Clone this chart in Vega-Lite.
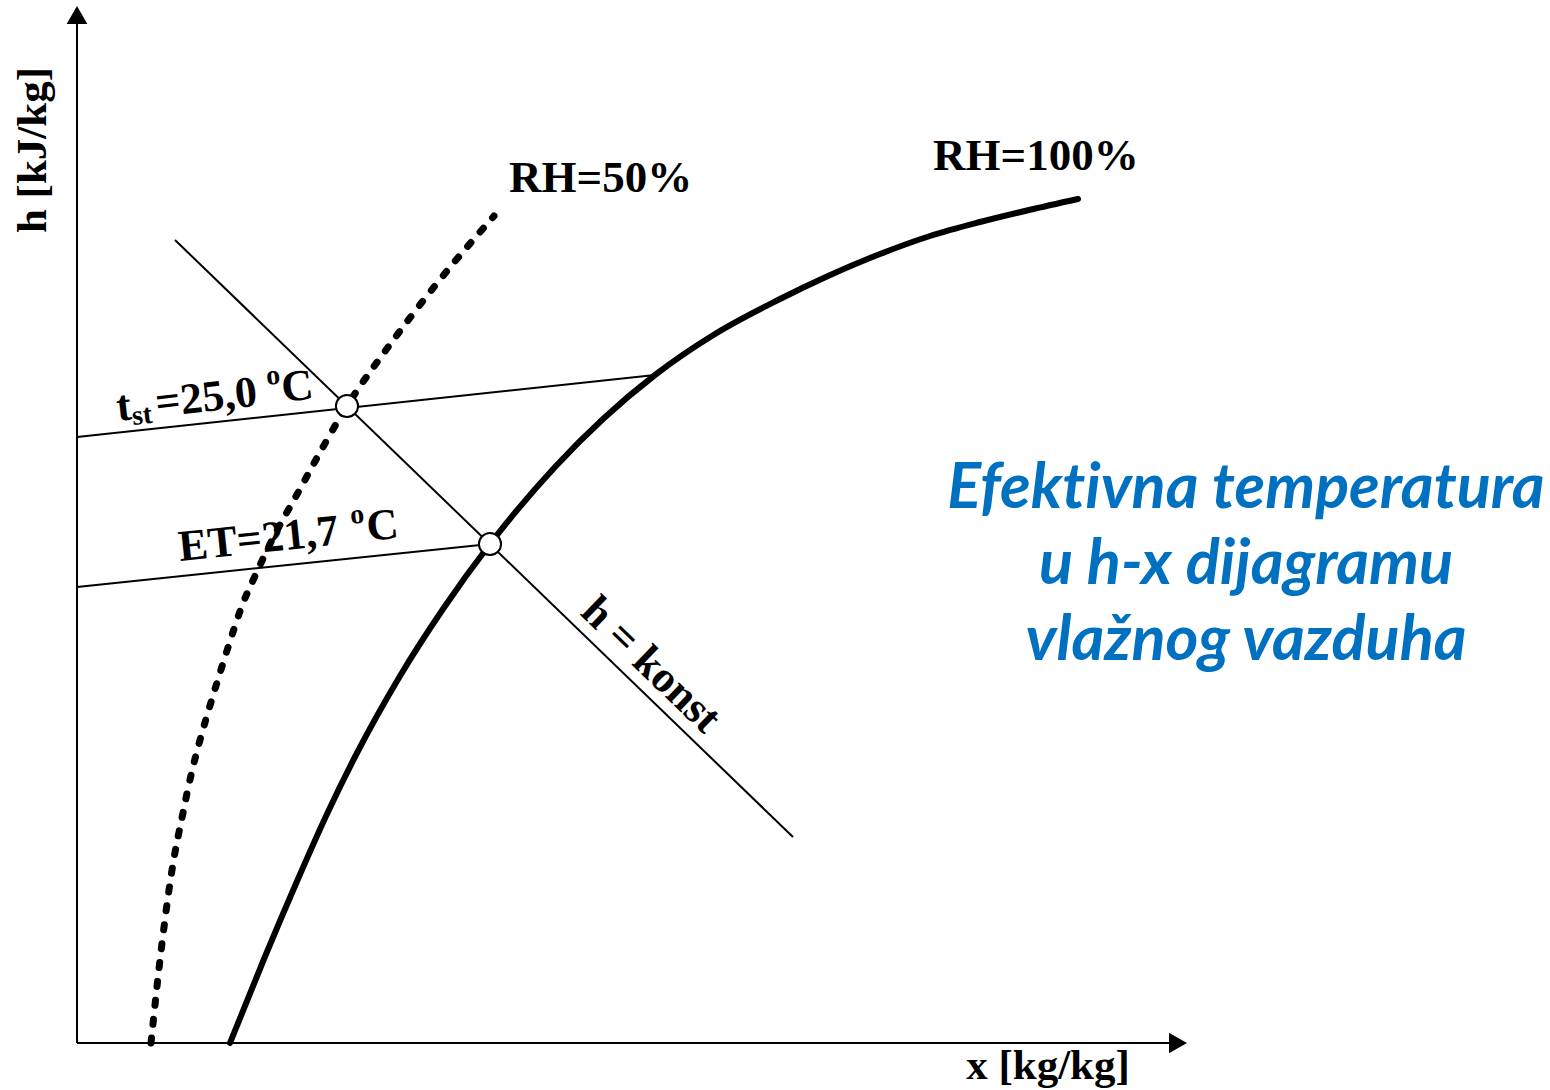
{
  "$schema": "https://vega.github.io/schema/vega-lite/v6.json",
  "width": 1550,
  "height": 1090,
  "autosize": {"type": "none"},
  "padding": 0,
  "background": "white",
  "config": {"view": {"stroke": null}},
  "encoding": {
    "x": {"field": "X", "type": "quantitative", "scale": {"domain": [-77, 1473], "nice": false, "zero": false}, "axis": null},
    "y": {"field": "Y", "type": "quantitative", "scale": {"domain": [-47, 1043], "nice": false, "zero": false}, "axis": null}
  },
  "datasets": {
    "axes": [
      {"X": 0, "Y": 0, "X2": 0, "Y2": 1020},
      {"X": 0, "Y": 0, "X2": 1095, "Y2": 0}
    ],
    "arrowUp": [{"X": 0, "Y": 1028}],
    "arrowRight": [{"X": 1101, "Y": 0}],
    "guides": [
      {"name": "tst", "X": 0, "Y": 606, "X2": 578, "Y2": 668},
      {"name": "ET", "X": 0, "Y": 456, "X2": 413, "Y2": 499},
      {"name": "hkonst", "X": 98, "Y": 803, "X2": 716, "Y2": 206}
    ],
    "rh100": [
      {"X": 153, "Y": 0}, {"X": 187, "Y": 84}, {"X": 221, "Y": 164}, {"X": 250, "Y": 229},
      {"X": 280, "Y": 290}, {"X": 323, "Y": 367}, {"X": 366, "Y": 434}, {"X": 413, "Y": 499},
      {"X": 478, "Y": 576}, {"X": 526, "Y": 624}, {"X": 578, "Y": 668}, {"X": 638, "Y": 709},
      {"X": 701, "Y": 743}, {"X": 751, "Y": 767}, {"X": 803, "Y": 789}, {"X": 853, "Y": 807},
      {"X": 903, "Y": 821}, {"X": 952, "Y": 833}, {"X": 1001, "Y": 844}
    ],
    "rh50": [
      {"X": 74, "Y": 0}, {"X": 83, "Y": 83}, {"X": 95, "Y": 173}, {"X": 106, "Y": 230},
      {"X": 123, "Y": 303}, {"X": 157, "Y": 414}, {"X": 173, "Y": 456}, {"X": 195, "Y": 503},
      {"X": 218, "Y": 545}, {"X": 241, "Y": 587}, {"X": 270, "Y": 637}, {"X": 298, "Y": 678},
      {"X": 323, "Y": 712}, {"X": 353, "Y": 751}, {"X": 385, "Y": 790}, {"X": 417, "Y": 827}
    ],
    "points": [{"X": 270, "Y": 637}, {"X": 413, "Y": 499}],
    "labelX": [{"text": "x [kg/kg]", "X": 971, "Y": -36}],
    "labelsRH": [
      {"text": "RH=50%", "X": 432, "Y": 851},
      {"text": "RH=100%", "X": 856, "Y": 873}
    ],
    "labelY": [{"text": "h [kJ/kg]", "X": -31, "Y": 893}],
    "tstBig": [
      {"text": "t", "X": 41, "Y": 622},
      {"text": "=25,0", "X": 80, "Y": 626},
      {"text": "C", "X": 206, "Y": 641}
    ],
    "tstSmall": [
      {"text": "st", "X": 56, "Y": 618},
      {"text": "o", "X": 190, "Y": 658}
    ],
    "etBig": [
      {"text": "ET=21,7", "X": 103, "Y": 482},
      {"text": "C", "X": 291, "Y": 502}
    ],
    "etSmall": [{"text": "o", "X": 274, "Y": 519}],
    "hk": [{"text": "h = konst", "X": 502, "Y": 429}],
    "title": [
      {"text": "Efekt\u200civna temperatura", "X": 1169, "Y": 535},
      {"text": "u h-x dijagramu", "X": 1169, "Y": 459},
      {"text": "vlažnog vazduha", "X": 1169, "Y": 383}
    ]
  },
  "layer": [
    {
      "data": {"name": "axes"},
      "mark": {"type": "rule", "stroke": "black", "strokeWidth": 2},
      "encoding": {"x2": {"field": "X2"}, "y2": {"field": "Y2"}}
    },
    {
      "data": {"name": "arrowUp"},
      "mark": {"type": "point", "shape": "triangle-up", "filled": true, "color": "black", "size": 430, "opacity": 1}
    },
    {
      "data": {"name": "arrowRight"},
      "mark": {"type": "point", "shape": "triangle-right", "filled": true, "color": "black", "size": 430, "opacity": 1}
    },
    {
      "data": {"name": "guides"},
      "mark": {"type": "rule", "stroke": "black", "strokeWidth": 2},
      "encoding": {"x2": {"field": "X2"}, "y2": {"field": "Y2"}}
    },
    {
      "data": {"name": "labelX"},
      "mark": {"type": "text", "font": "Liberation Serif", "fontWeight": "bold", "fontSize": 43, "baseline": "alphabetic", "align": "center", "color": "black"},
      "encoding": {"text": {"field": "text"}}
    },
    {
      "data": {"name": "labelsRH"},
      "mark": {"type": "text", "font": "Liberation Serif", "fontWeight": "bold", "fontSize": 45, "baseline": "alphabetic", "align": "left", "color": "black"},
      "encoding": {"text": {"field": "text"}}
    },
    {
      "data": {"name": "labelY"},
      "mark": {"type": "text", "font": "Liberation Serif", "fontWeight": "bold", "fontSize": 43, "baseline": "alphabetic", "align": "center", "angle": 270, "color": "black"},
      "encoding": {"text": {"field": "text"}}
    },
    {
      "data": {"name": "tstBig"},
      "mark": {"type": "text", "font": "Liberation Serif", "fontWeight": "bold", "fontSize": 44, "baseline": "alphabetic", "align": "left", "angle": -6.5, "color": "black"},
      "encoding": {"text": {"field": "text"}}
    },
    {
      "data": {"name": "tstSmall"},
      "mark": {"type": "text", "font": "Liberation Serif", "fontWeight": "bold", "fontSize": 28, "baseline": "alphabetic", "align": "left", "angle": -6.5, "color": "black"},
      "encoding": {"text": {"field": "text"}}
    },
    {
      "data": {"name": "etBig"},
      "mark": {"type": "text", "font": "Liberation Serif", "fontWeight": "bold", "fontSize": 44, "baseline": "alphabetic", "align": "left", "angle": -6, "color": "black"},
      "encoding": {"text": {"field": "text"}}
    },
    {
      "data": {"name": "etSmall"},
      "mark": {"type": "text", "font": "Liberation Serif", "fontWeight": "bold", "fontSize": 28, "baseline": "alphabetic", "align": "left", "angle": -6, "color": "black"},
      "encoding": {"text": {"field": "text"}}
    },
    {
      "data": {"name": "hk"},
      "mark": {"type": "text", "font": "Liberation Serif", "fontWeight": "bold", "fontSize": 44, "baseline": "alphabetic", "align": "left", "angle": 44, "color": "black"},
      "encoding": {"text": {"field": "text"}}
    },
    {
      "data": {"name": "title"},
      "mark": {"type": "text", "font": "Lato", "fontWeight": "bold", "fontStyle": "italic", "fontSize": 63, "baseline": "alphabetic", "align": "center", "color": "#0070C0"},
      "encoding": {"text": {"field": "text"}}
    },
    {
      "data": {"name": "rh100"},
      "mark": {"type": "line", "interpolate": "monotone", "stroke": "black", "strokeWidth": 6, "strokeCap": "round"}
    },
    {
      "data": {"name": "rh50"},
      "mark": {"type": "line", "interpolate": "natural", "stroke": "black", "strokeWidth": 7, "strokeCap": "round", "strokeDash": [5, 14]}
    },
    {
      "data": {"name": "points"},
      "mark": {"type": "point", "shape": "circle", "filled": true, "fill": "white", "stroke": "black", "strokeWidth": 2, "size": 490, "opacity": 1}
    }
  ]
}
